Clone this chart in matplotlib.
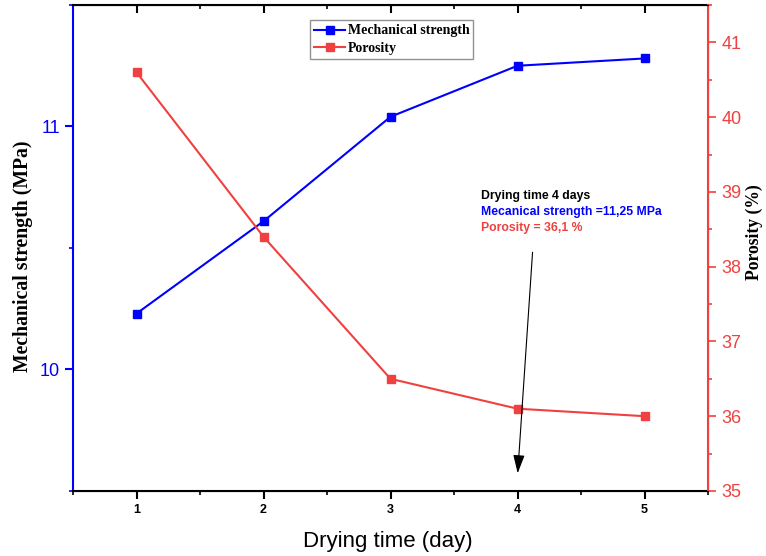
import matplotlib
matplotlib.use("Agg")
import matplotlib.pyplot as plt
from matplotlib.ticker import MultipleLocator

days = [1, 2, 3, 4, 5]
strength = [10.23, 10.61, 11.04, 11.25, 11.28]
porosity = [40.6, 38.4, 36.5, 36.1, 36.0]

blue = "#0000FF"
red = "#F04040"
sans = "Liberation Sans"
serif = "Liberation Serif"

fig = plt.figure(figsize=(7.66, 5.56), dpi=100)
ax = fig.add_axes([0.0953, 0.117, 0.829, 0.874])
ax2 = ax.twinx()

l1, = ax.plot(days, strength, color=blue, marker="s", markersize=6, lw=1.5,
              label="Mechanical strength")
l2, = ax2.plot(days, porosity, color=red, marker="s", markersize=6, lw=1.5,
               label="Porosity")

ax.set_xlim(0.5, 5.5)
ax.set_ylim(9.5, 11.5)
ax2.set_ylim(35, 41.5)

ax.set_xticks(days)
ax.xaxis.set_minor_locator(MultipleLocator(0.5))
ax.set_yticks([10, 11])
ax.yaxis.set_minor_locator(MultipleLocator(0.5))
ax2.yaxis.set_major_locator(MultipleLocator(1))
ax2.yaxis.set_minor_locator(MultipleLocator(0.5))

for s in ["top", "bottom"]:
    ax.spines[s].set_linewidth(1.5)
ax.spines["left"].set_color(blue)
ax.spines["left"].set_linewidth(1.5)
ax2.spines["right"].set_color(red)
ax2.spines["right"].set_linewidth(1.5)
ax2.spines["left"].set_visible(False)

ax.tick_params(axis="x", which="major", direction="out", length=6, width=1.5,
               top=True, labelsize=9)
ax.tick_params(axis="x", which="minor", direction="out", length=3, width=1.2, top=True)
# top ticks point inward
for t in ax.xaxis.get_major_ticks() + ax.xaxis.get_minor_ticks():
    t.tick2line.set_marker(3)
for lab in ax.get_xticklabels():
    lab.set_fontweight("bold")
    lab.set_fontfamily(sans)
ax.tick_params(axis="y", which="major", colors=blue, direction="out", length=6, width=1.5,
               labelsize=13)
ax.tick_params(axis="y", which="minor", colors=blue, direction="out", length=3, width=1.2)
for lab in ax.get_yticklabels():
    lab.set_fontfamily(sans)
ax2.tick_params(axis="y", which="major", colors=red, direction="out", length=6, width=1.2,
                labelsize=13)
ax2.tick_params(axis="y", which="minor", colors=red, direction="out", length=3, width=1.2)
for lab in ax2.get_yticklabels():
    lab.set_fontfamily(sans)

ax.set_xlabel("Drying time (day)", fontsize=16, family=sans)
ax.xaxis.set_label_coords(0.495, -0.082)
ax.set_ylabel("Mechanical strength (MPa)", fontsize=14.2, fontweight="bold", family=serif)
ax.yaxis.set_label_coords(-0.063, 0.484)
ax2.set_ylabel("Porosity (%)", fontsize=12.7, fontweight="bold", family=serif)
ax2.yaxis.set_label_coords(1.06, 0.533)

leg = ax.legend(handles=[l1, l2], loc="upper center", bbox_to_anchor=(0.502, 0.983),
                prop={"family": serif, "weight": "bold", "size": 10},
                fancybox=False, edgecolor="#777777", borderpad=0.3,
                handlelength=2.2, handletextpad=0.2, labelspacing=0.35)
leg.get_frame().set_linewidth(1.0)

ax2.text(3.71, 38.95, "Drying time 4 days", fontsize=8.8, fontweight="bold",
         family=sans, color="black", va="center")
ax2.text(3.71, 38.735, "Mecanical strength =11,25 MPa", fontsize=8.8, fontweight="bold",
         family=sans, color=blue, va="center")
ax2.text(3.71, 38.52, "Porosity = 36,1 %", fontsize=8.8, fontweight="bold",
         family=sans, color=red, va="center")
ax2.annotate("", xy=(4.0, 35.2), xytext=(4.12, 38.23),
             arrowprops=dict(arrowstyle="-|>,head_length=0.8,head_width=0.25",
                             color="black", lw=0.8, mutation_scale=14))

fig.savefig("out.png", dpi=100)
